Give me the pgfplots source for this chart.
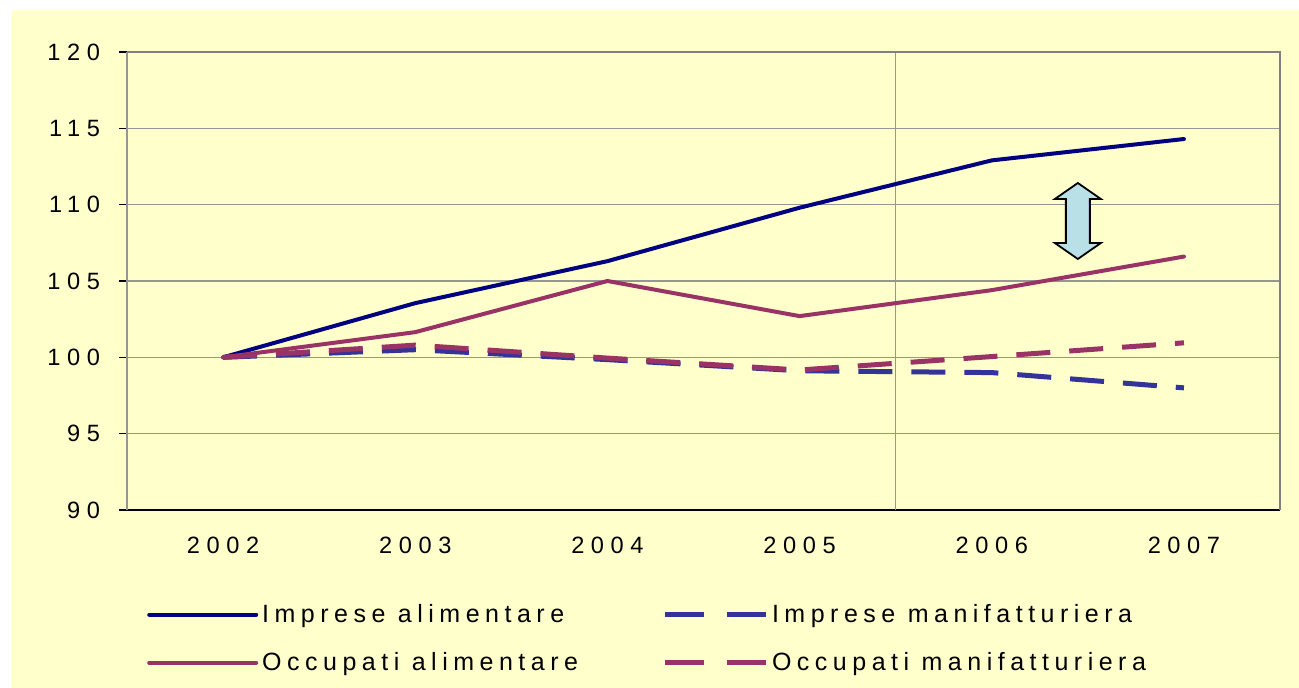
\documentclass[border=0pt]{standalone}
\usepackage{fontspec}
\setmainfont{Liberation Sans}
\newfontfamily\tickfont[LetterSpace=28]{Liberation Sans}
\newfontfamily\legfont[LetterSpace=22]{Liberation Sans}
\usepackage{pgfplots}
\pgfplotsset{compat=1.18}

\definecolor{bgyellow}{RGB}{255,255,204}
\definecolor{navyline}{RGB}{0,0,128}
\definecolor{plumline}{RGB}{153,51,102}
\definecolor{blueline}{RGB}{51,51,153}
\definecolor{gridgray}{RGB}{150,150,150}
\definecolor{arrowfill}{RGB}{185,224,230}

\pgfplotsset{
    solidleg/.style={legend image code/.code={\draw[##1] (0pt,0pt) -- (53.5pt,0pt);}},
    dashleg/.style={legend image code/.code={\draw[##1, dash pattern=on 19.5pt off 11.5pt] (-2pt,0pt) -- (48.5pt,0pt);}},
}

\begin{document}
\begin{tikzpicture}
    \useasboundingbox (0,0) rectangle (649.5pt,-344pt);
    \fill[white] (0,0) rectangle (649.5pt,-344pt);
    \fill[bgyellow] (6pt,-5pt) rectangle (649.5pt,-344pt);
    \begin{axis}[%
            at={(63.5pt,-255pt)},
            anchor=south west,
            scale only axis,
            width=576.5pt,
            height=229pt,
            xmin=-0.5, xmax=5.5,
            ymin=90, ymax=120,
            xtick={0,1,2,3,4,5},
            xticklabels={2002,2003,2004,2005,2006,2007},
            ytick={90,95,100,105,110,115,120},
            yticklabels={90,95,100,105,110,115,120},
            extra x ticks={-0.5,3.5},
            extra x tick labels={},
            extra x tick style={grid=major, tick style={draw=black, line width=0.8pt}},
            x tick style={draw=none},
            y tick style={draw=black, line width=0.8pt},
            tick align=outside,
            major tick length=4pt,
            ymajorgrids,
            grid style={gridgray, line width=0.8pt},
            axis x line*=bottom,
            axis y line*=left,
            axis line style={black, line width=1pt},
            xticklabel style={font=\tickfont\fontsize{11.8}{12}\selectfont, yshift=-6pt},
            yticklabel style={font=\tickfont\fontsize{11.8}{12}\selectfont, xshift=-6pt},
            clip=false,
            legend columns=2,
            legend cell align=left,
            legend style={
                at={(axis description cs:0.012,-0.187)},
                anchor=north west,
                draw=none, fill=none,
                font=\legfont\fontsize{12.5}{13}\selectfont,
                row sep=9.5pt,
                /tikz/every even column/.append style={column sep=40pt},
            },
        ]
        \addplot[navyline, line width=2pt, line cap=round, line join=round, solidleg]
            coordinates {(0,100) (1,103.55) (2,106.3) (3,109.8) (4,112.9) (5,114.3)};
        \addlegendentry{Imprese alimentare}
        \addplot[blueline, line width=2.5pt, dash pattern=on 17pt off 9.5pt, dashleg]
            coordinates {(0,100) (1,100.5) (2,99.85) (3,99.12) (4,99.0) (5,98.0)};
        \addlegendentry{Imprese manifatturiera}
        \addplot[plumline, line width=2pt, line cap=round, line join=round, solidleg]
            coordinates {(0,100) (1,101.65) (2,105.0) (3,102.7) (4,104.4) (5,106.6)};
        \addlegendentry{Occupati alimentare}
        \addplot[plumline, line width=2.5pt, dash pattern=on 17pt off 9.5pt, dashleg]
            coordinates {(0,100) (1,100.8) (2,99.95) (3,99.17) (4,100.05) (5,100.95)};
        \addlegendentry{Occupati manifatturiera}
        \draw[gridgray!85!black, line width=1.2pt] (rel axis cs:0,1) -- (rel axis cs:1,1) -- (rel axis cs:1,0);
        \coordinate (gap) at (axis cs:4.448,108.93);
    \end{axis}
    \draw[fill=arrowfill, line width=0.9pt, line join=miter, shift={(gap)}]
        (0pt,19pt) -- (11.5pt,11pt) -- (6pt,11pt) -- (6pt,-11pt) -- (11.5pt,-11pt)
        -- (0pt,-19pt) -- (-11.5pt,-11pt) -- (-6pt,-11pt) -- (-6pt,11pt) -- (-11.5pt,11pt) -- cycle;
\end{tikzpicture}
\end{document}
